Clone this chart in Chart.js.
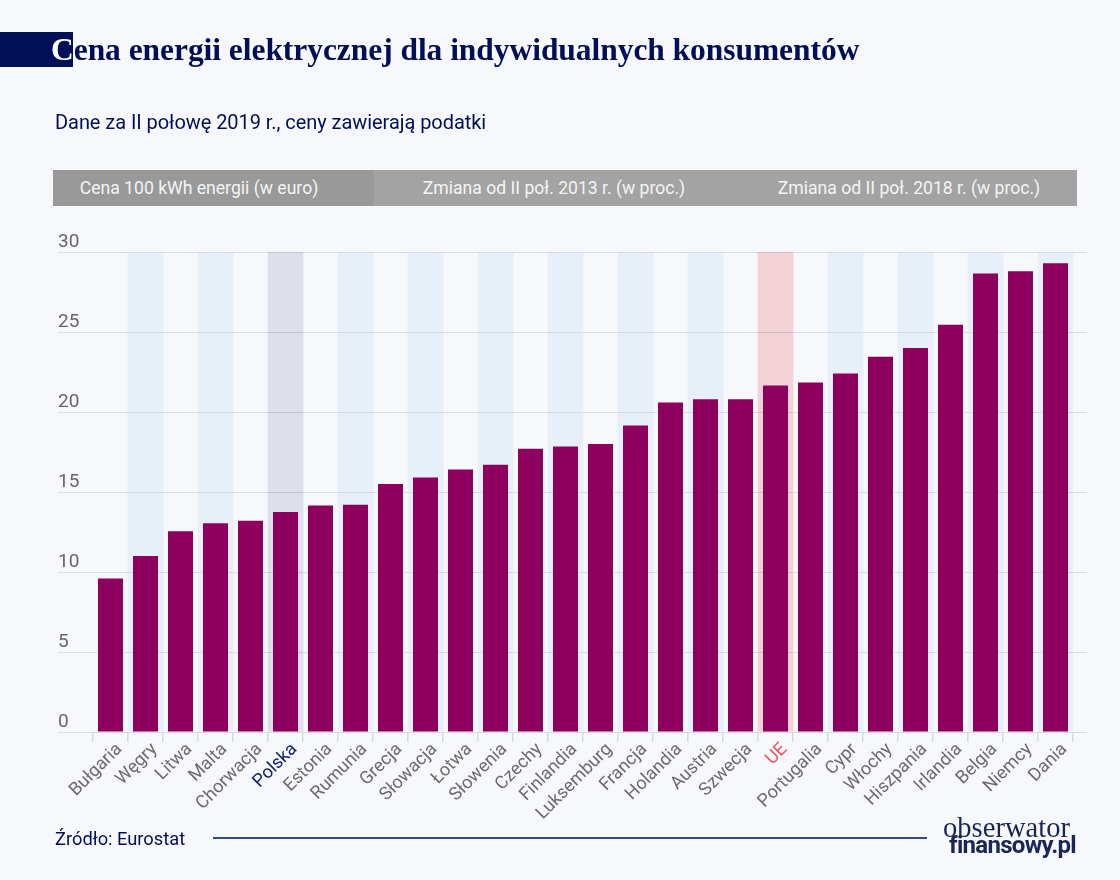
<!DOCTYPE html>
<html lang="pl">
<head>
<meta charset="utf-8">
<title>Cena energii elektrycznej</title>
<script src="https://cdn.jsdelivr.net/npm/chart.js@4"></script>
<style>
    html, body { margin: 0; padding: 0; background: #f7f8fb; }
    #page { position: relative; width: 1120px; height: 880px; overflow: hidden; font-family: Roboto, sans-serif; }
    #page > * { position: absolute; white-space: nowrap; }
    canvas { left: 0; top: 0; }
    #titleBand { left: 0; top: 32px; width: 73px; height: 35px; background: #000f56; }
    #title { left: 51px; top: 32px; font: bold 31.5px/36px "Liberation Serif", serif; letter-spacing: -0.05px; color: #000f56; }
    #title b { color: #fff; }
    #subtitle { left: 55px; top: 110px; font-size: 20px; line-height: 24px; letter-spacing: -0.06px; color: #000f56; }
    .head { top: 170px; height: 36px; line-height: 36px; font-size: 17.6px; color: #f4f4f4; text-align: center; background: #a3a3a3; box-sizing: border-box; }
    #source { left: 55px; top: 827px; font-size: 18.3px; line-height: 24px; color: #000f56; }
    #rule { left: 213px; top: 837px; width: 714px; height: 1.5px; background: #3a4a85; }
    #logo1 { left: 943px; top: 815px; font: 28.6px/26px "Liberation Serif", serif; color: #1a2656; }
    #logo2 { left: 949px; top: 832px; font: bold 24px/26px Roboto, sans-serif; color: #1a2656; letter-spacing: -0.7px; }
</style>
</head>
<body>
<div id="page">
    <canvas id="chart" width="1120" height="880"></canvas>
    <div id="titleBand"></div>
    <div id="title"><b>C</b>ena energii elektrycznej dla indywidualnych konsumentów</div>
    <div id="subtitle">Dane za II połowę 2019 r., ceny zawierają podatki</div>
    <div class="head" style="left:53px;width:321px;padding-right:29px;background:#999">Cena 100 kWh energii (w euro)</div>
    <div class="head" style="left:374px;width:360px">Zmiana od II poł. 2013 r. (w proc.)</div>
    <div class="head" style="left:734px;width:343px;padding-left:7px">Zmiana od II poł. 2018 r. (w proc.)</div>
    <div id="source">Źródło: Eurostat</div>
    <div id="rule"></div>
    <div id="logo1">obserwator</div>
    <div id="logo2">finansowy.pl</div>
</div>
<script>
const countries = ['Bułgaria', 'Węgry', 'Litwa', 'Malta', 'Chorwacja', 'Polska', 'Estonia', 'Rumunia',
    'Grecja', 'Słowacja', 'Łotwa', 'Słowenia', 'Czechy', 'Finlandia', 'Luksemburg', 'Francja', 'Holandia',
    'Austria', 'Szwecja', 'UE', 'Portugalia', 'Cypr', 'Włochy', 'Hiszpania', 'Irlandia', 'Belgia', 'Niemcy', 'Dania'];
const prices = [9.6, 11.0, 12.55, 13.05, 13.2, 13.75, 14.15, 14.2,
    15.5, 15.9, 16.4, 16.7, 17.7, 17.85, 18.0, 19.15, 20.6,
    20.8, 20.8, 21.65, 21.85, 22.4, 23.45, 24.0, 25.45, 28.65, 28.8, 29.3];
const stripes = [null, 30, null, 30, null, 30, null, 30,
    null, 30, null, 30, null, 30, null, 30, null,
    30, null, 30, null, 30, null, 30, null, 30, null, 30];

const gridColor = '#d9dbdf';

function stripeColor(name) {
    if (name === 'Polska') return 'rgba(0,15,70,0.1)';
    if (name === 'UE') return 'rgba(225,60,75,0.2)';
    return 'rgba(195,218,245,0.3)';
}

function tickColor(name) {
    if (name === 'Polska') return '#10206e';
    if (name === 'UE') return '#f0525c';
    return '#6b6b6b';
}

new Chart(document.getElementById('chart'), {
    type: 'bar',
    data: {
        labels: countries,
        datasets: [
            {
                data: prices,
                backgroundColor: '#8d005e',
                barPercentage: 25 / 35,
                categoryPercentage: 1,
                grouped: false,
                order: 1,
            },
            {
                data: stripes,
                backgroundColor: countries.map(stripeColor),
                barPercentage: 1,
                categoryPercentage: 1,
                grouped: false,
                order: 2,
            },
        ],
    },
    options: {
        responsive: false,
        animation: false,
        layout: { padding: { left: 58, right: 33, top: 252, bottom: 0 } },
        plugins: { legend: { display: false }, tooltip: { enabled: false } },
        scales: {
            x: {
                afterFit: scale => { scale.height = 148; },
                border: { color: gridColor },
                grid: { color: gridColor, drawOnChartArea: false, tickLength: 10, lineWidth: 1.5 },
                ticks: {
                    autoSkip: false,
                    maxRotation: 45,
                    minRotation: 45,
                    padding: -3,
                    labelOffset: 9,
                    font: { family: 'Roboto', size: 18 },
                    color: ctx => tickColor(countries[ctx.index]),
                },
            },
            y: {
                min: 0,
                max: 30,
                afterFit: scale => { scale.width = 35; },
                border: { display: false },
                grid: { color: gridColor, tickLength: 35 },
                ticks: {
                    stepSize: 5,
                    crossAlign: 'far',
                    labelOffset: -10,
                    font: { family: 'Roboto', size: 19 },
                    color: '#666',
                },
            },
            y2: {
                position: 'right',
                min: 0,
                max: 30,
                afterFit: scale => { scale.width = 14; },
                border: { display: false },
                grid: { color: gridColor, drawOnChartArea: false, tickLength: 14 },
                ticks: { stepSize: 5, display: false },
            },
        },
    },
});
</script>
</body>
</html>
